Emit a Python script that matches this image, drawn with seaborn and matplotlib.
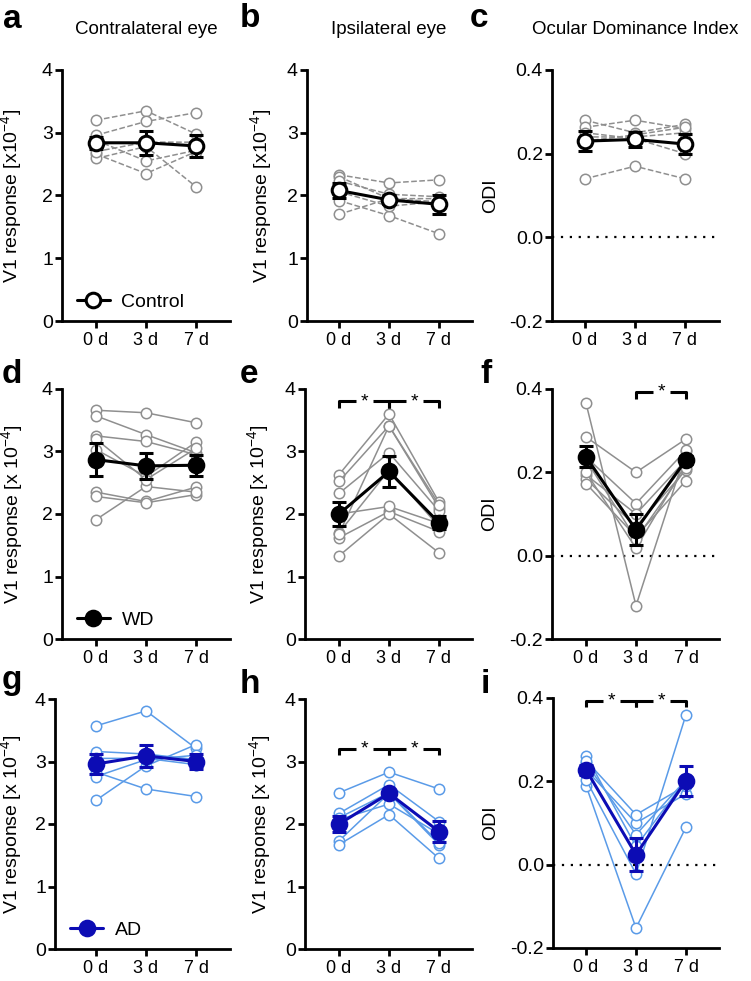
import numpy as np
import pandas as pd
import seaborn as sns
import matplotlib.pyplot as plt
from matplotlib.lines import Line2D
from matplotlib.transforms import blended_transform_factory

# ---------------- data ----------------
days = ["0 d", "3 d", "7 d"]
x_pos = [0, 1, 2]

# Control
ctrl_contra = [[3.20, 3.35, 2.98], [2.96, 3.18, 3.32], [2.88, 2.55, 2.72],
               [2.66, 2.35, 2.70], [2.59, 2.78, 2.14], [2.70, 2.85, 2.85]]
ctrl_contra_mean = [2.84, 2.84, 2.79]
ctrl_contra_sem = [0.10, 0.19, 0.18]

ctrl_ipsi = [[2.33, 2.20, 2.25], [2.30, 1.95, 1.90], [1.70, 1.95, 1.95],
             [1.92, 1.68, 1.39], [2.23, 2.02, 1.98], [2.06, 1.83, 1.90]]
ctrl_ipsi_mean = [2.08, 1.93, 1.86]
ctrl_ipsi_sem = [0.12, 0.07, 0.15]

ctrl_odi = [[0.280, 0.250, 0.270], [0.263, 0.280, 0.260], [0.140, 0.170, 0.140],
            [0.240, 0.240, 0.250], [0.250, 0.236, 0.200], [0.230, 0.245, 0.263]]
ctrl_odi_mean = [0.230, 0.234, 0.223]
ctrl_odi_sem = [0.023, 0.018, 0.024]

# WD
wd_contra = [[3.66, 3.62, 3.46], [3.57, 3.27, 2.98], [3.25, 3.16, 2.95],
             [3.03, 2.60, 3.15], [2.35, 2.20, 2.43], [2.28, 2.18, 2.31],
             [1.91, 2.44, 2.35], [3.20, 2.55, 3.05]]
wd_contra_mean = [2.87, 2.77, 2.78]
wd_contra_sem = [0.26, 0.21, 0.17]

wd_ipsi = [[2.63, 3.60, 2.19], [2.52, 3.41, 2.10], [2.33, 2.98, 2.05],
           [1.70, 2.70, 1.80], [1.62, 2.04, 1.72], [1.33, 2.00, 1.38],
           [2.00, 2.12, 1.85], [1.68, 3.41, 2.15]]
wd_ipsi_mean = [2.00, 2.68, 1.86]
wd_ipsi_sem = [0.185, 0.245, 0.10]

wd_odi = [[0.366, -0.120, 0.250], [0.285, 0.200, 0.280], [0.237, 0.125, 0.253],
          [0.194, 0.100, 0.230], [0.184, 0.070, 0.206], [0.173, 0.046, 0.180],
          [0.200, 0.018, 0.220], [0.230, 0.040, 0.210]]
wd_odi_mean = [0.237, 0.062, 0.230]
wd_odi_sem = [0.025, 0.037, 0.010]

# AD
ad_contra = [[3.57, 3.81, 3.21], [3.16, 3.12, 3.03], [3.05, 3.05, 2.95],
             [2.83, 2.56, 2.44], [2.38, 2.93, 3.27], [2.76, 3.03, 3.10]]
ad_contra_mean = [2.96, 3.09, 3.00]
ad_contra_sem = [0.16, 0.17, 0.12]

ad_ipsi = [[2.50, 2.83, 2.56], [2.17, 2.63, 2.04], [2.07, 2.32, 1.84],
           [1.73, 2.49, 1.67], [1.67, 2.15, 1.45], [2.10, 2.50, 1.70]]
ad_ipsi_mean = [2.00, 2.49, 1.88]
ad_ipsi_sem = [0.125, 0.05, 0.165]

ad_odi = [[0.262, 0.044, 0.204], [0.190, -0.152, 0.090], [0.204, -0.022, 0.360],
          [0.228, 0.100, 0.170], [0.244, 0.072, 0.204], [0.250, 0.120, 0.190]]
ad_odi_mean = [0.228, 0.024, 0.202]
ad_odi_sem = [0.012, 0.040, 0.036]

# significance brackets: (from, to) pairs
sig_e = [(0, 1), (1, 2)]
sig_f = [(1, 2)]
sig_h = [(0, 1), (1, 2)]
sig_i = [(0, 1), (1, 2)]

# ---------------- style ----------------
sns.set_style("ticks")
plt.rcParams["font.family"] = ["Liberation Sans", "DejaVu Sans"]
plt.rcParams["mathtext.fontset"] = "custom"
plt.rcParams["mathtext.rm"] = "Liberation Sans"
plt.rcParams["mathtext.default"] = "regular"
for k in ["text.color", "axes.labelcolor", "xtick.color", "ytick.color", "axes.edgecolor"]:
    plt.rcParams[k] = "black"

GRAY = "#8f8f8f"
LIGHT_BLUE = "#5a9be8"
DARK_BLUE = "#0c0cb4"

W, H = 751, 981
fig = plt.figure(figsize=(W / 100, H / 100), dpi=100)


def make_ax(left, right, top, bottom, tick0):
    ax = fig.add_axes([left / W, 1 - bottom / H, (right - left) / W, (bottom - top) / H])
    ax.set_xlim((left - tick0) / 50, (right - tick0) / 50)
    return ax


def draw_panel(ax, animals, mean, sem, ind_color, ind_ls, mean_face, mean_edge):
    rows = []
    for i, vals in enumerate(animals):
        for d, v in zip(x_pos, vals):
            rows.append({"animal": i, "day": d, "value": v})
    df = pd.DataFrame(rows)
    sns.lineplot(data=df, x="day", y="value", units="animal", estimator=None,
                 ax=ax, color=ind_color, linestyle=ind_ls, lw=1.1, marker="o",
                 markersize=7.5, markerfacecolor="white", markeredgecolor=ind_color,
                 markeredgewidth=1.1, legend=False, zorder=2)
    ax.errorbar(x_pos, mean, yerr=sem, color=mean_edge, lw=2.2, marker="o",
                ms=10.5, mfc=mean_face, mec=mean_edge, mew=2.2, capsize=5,
                capthick=2.2, elinewidth=2.2, zorder=5)


def style_ax(ax, odi):
    sns.despine(ax=ax)
    for s in ["left", "bottom"]:
        ax.spines[s].set_linewidth(2)
    ax.tick_params(axis="both", width=2, length=5, pad=1.5)
    ax.tick_params(axis="y", labelsize=14)
    ax.tick_params(axis="x", labelsize=13, pad=3)
    ax.set_xticks(x_pos)
    ax.set_xticklabels(days)
    ax.set_xlabel("")
    if odi:
        ax.set_ylim(-0.2, 0.4)
        ax.set_yticks([-0.2, 0.0, 0.2, 0.4])
        ax.set_yticklabels(["-0.2", "0.0", "0.2", "0.4"])
        ax.axhline(0, color="black", ls=(0, (1, 3)), lw=1.6, zorder=1)
    else:
        ax.set_ylim(0, 4)
        ax.set_yticks([0, 1, 2, 3, 4])
        ax.set_yticklabels(["0", "1", "2", "3", "4"])


def set_ylabel(ax, text, right_px, left, right):
    ax.set_ylabel(text, fontsize=14)
    ax.yaxis.set_label_coords((right_px - left) / (right - left), 0.5)


def brackets(ax, pairs, y, tick_h, color):
    for x0, x1 in pairs:
        xm = (x0 + x1) / 2
        g = 0.17
        ax.plot([x0, x0, xm - g], [y - tick_h, y, y], color=color, lw=2.2,
                solid_capstyle="butt", clip_on=False, zorder=6)
        ax.plot([xm + g, x1, x1], [y, y, y - tick_h], color=color, lw=2.2,
                solid_capstyle="butt", clip_on=False, zorder=6)
        ax.text(xm, y, "*", ha="center", va="center", fontsize=14, color=color)


def legend(ax, label, face, edge):
    h = Line2D([], [], color=edge, lw=2.2, marker="o", ms=10.5, mfc=face, mec=edge, mew=2.2)
    ax.legend([h], [label], loc="lower left", frameon=False, fontsize=14,
              handlelength=1.7, handletextpad=0.6, borderaxespad=0.1,
              bbox_to_anchor=(0.03, 0.0))


# layout: left, right, top, bottom, first tick (pixels)
layout = {
    "a": (62, 230, 70, 321, 96), "b": (307, 472, 70, 321, 339), "c": (552, 719, 70, 321, 585),
    "d": (62, 230, 389, 639, 96), "e": (305, 472, 389, 639, 339), "f": (552, 719, 389, 639, 586),
    "g": (55, 230, 699, 949, 96), "h": (305, 472, 699, 949, 339), "i": (553, 719, 698, 948, 586),
}
ylab_right = {"a": 24, "b": 274, "c": 499, "d": 25, "e": 271, "f": 498,
              "g": 24, "h": 273, "i": 499}
letter_pos = {"a": (3, 28), "b": (240, 27), "c": (470, 27),
              "d": (2, 383), "e": (240, 383), "f": (480, 383),
              "g": (2, 689), "h": (240, 693), "i": (481, 693)}

panels = {
    "a": (ctrl_contra, ctrl_contra_mean, ctrl_contra_sem, GRAY, "--", "white", "black", False),
    "b": (ctrl_ipsi, ctrl_ipsi_mean, ctrl_ipsi_sem, GRAY, "--", "white", "black", False),
    "c": (ctrl_odi, ctrl_odi_mean, ctrl_odi_sem, GRAY, "--", "white", "black", True),
    "d": (wd_contra, wd_contra_mean, wd_contra_sem, GRAY, "-", "black", "black", False),
    "e": (wd_ipsi, wd_ipsi_mean, wd_ipsi_sem, GRAY, "-", "black", "black", False),
    "f": (wd_odi, wd_odi_mean, wd_odi_sem, GRAY, "-", "black", "black", True),
    "g": (ad_contra, ad_contra_mean, ad_contra_sem, LIGHT_BLUE, "-", DARK_BLUE, DARK_BLUE, False),
    "h": (ad_ipsi, ad_ipsi_mean, ad_ipsi_sem, LIGHT_BLUE, "-", DARK_BLUE, DARK_BLUE, False),
    "i": (ad_odi, ad_odi_mean, ad_odi_sem, LIGHT_BLUE, "-", DARK_BLUE, DARK_BLUE, True),
}

axes = {}
for key, (animals, mean, sem, ic, ls, mf, me, odi) in panels.items():
    left, right, top, bottom, tick0 = layout[key]
    ax = make_ax(left, right, top, bottom, tick0)
    draw_panel(ax, animals, mean, sem, ic, ls, mf, me)
    style_ax(ax, odi)
    if odi:
        lab = "ODI"
    elif key in ("a", "b"):
        lab = "V1 response [x10$^{-4}$]"
    else:
        lab = "V1 response [x 10$^{-4}$]"
    set_ylabel(ax, lab, ylab_right[key], left, right)
    axes[key] = ax
    lx, ly = letter_pos[key]
    fig.text(lx / W, 1 - ly / H, key, fontsize=24, fontweight="bold", va="baseline")

# column titles
for key, title in [("a", "Contralateral eye"), ("b", "Ipsilateral eye"), ("c", "Ocular Dominance Index")]:
    ax = axes[key]
    tr = blended_transform_factory(ax.transData, ax.transAxes)
    ax.text(1, 1 + 40 / 251, title, transform=tr, ha="center", va="center", fontsize=13.5)

# significance
brackets(axes["e"], sig_e, 3.80, 0.1, "black")
brackets(axes["f"], sig_f, 0.392, 0.015, "black")
brackets(axes["h"], sig_h, 3.20, 0.1, "black")
brackets(axes["i"], sig_i, 0.394, 0.015, "black")

# legends
legend(axes["a"], "Control", "white", "black")
legend(axes["d"], "WD", "black", "black")
legend(axes["g"], "AD", DARK_BLUE, DARK_BLUE)

fig.savefig("out.png", dpi=100)
